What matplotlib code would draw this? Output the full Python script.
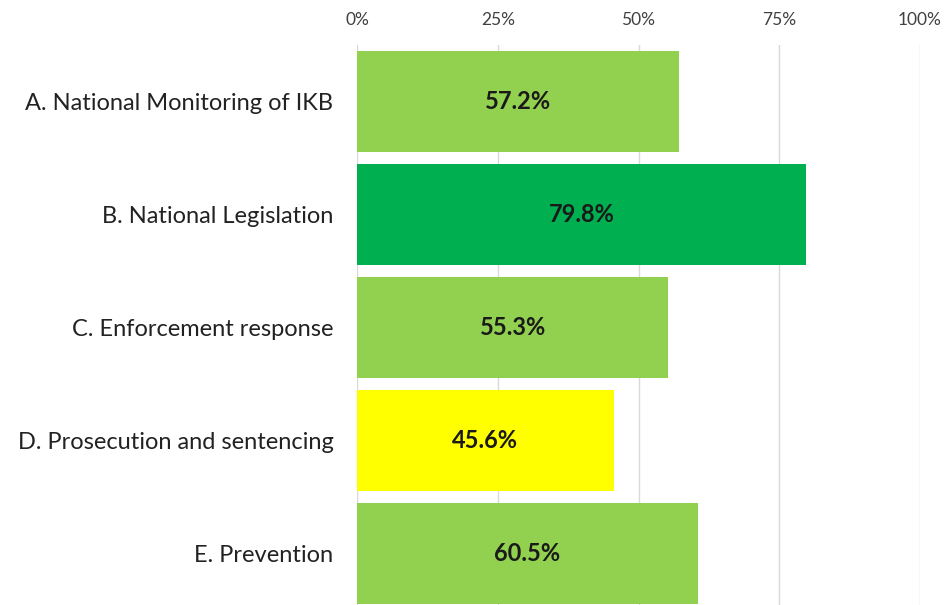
import matplotlib
matplotlib.use("Agg")
import matplotlib.pyplot as plt
from matplotlib.ticker import PercentFormatter

# Data
categories = [
    "A. National Monitoring of IKB",
    "B. National Legislation",
    "C. Enforcement response",
    "D. Prosecution and sentencing",
    "E. Prevention",
]
scores = [57.2, 79.8, 55.3, 45.6, 60.5]
bar_colors = ["#92D050", "#00B050", "#92D050", "#FFFF00", "#92D050"]
ticks = [0, 25, 50, 75, 100]

plt.rcParams["font.family"] = ["Lato", "DejaVu Sans"]

fig = plt.figure(figsize=(9.46, 6.05), dpi=100)
ax = fig.add_axes([357 / 946, 0.0, (920 - 357) / 946, (605 - 45) / 605])

ypos = list(range(len(categories)))
ax.barh(ypos, scores, height=0.9, color=bar_colors, zorder=2)

for y, v in zip(ypos, scores):
    ax.text(v / 2, y, f"{v:.1f}%", ha="center", va="center",
            fontsize=17, fontweight="bold", color="#1a1a1a", zorder=3)

ax.set_xlim(0, 100)
ax.set_ylim(4.456, -0.5)
ax.set_xticks(ticks)
ax.xaxis.set_major_formatter(PercentFormatter(decimals=0))
ax.xaxis.tick_top()
ax.set_yticks(ypos)
ax.set_yticklabels(categories)
ax.tick_params(axis="x", length=0, pad=12, labelsize=12.5, labelcolor="#404040")
ax.tick_params(axis="y", length=0, pad=17, labelsize=17, labelcolor="#222222")
ax.grid(axis="x", color="#d9d9d9", linewidth=1, zorder=0)
for s in ax.spines.values():
    s.set_visible(False)

fig.savefig("out.png", dpi=100)
